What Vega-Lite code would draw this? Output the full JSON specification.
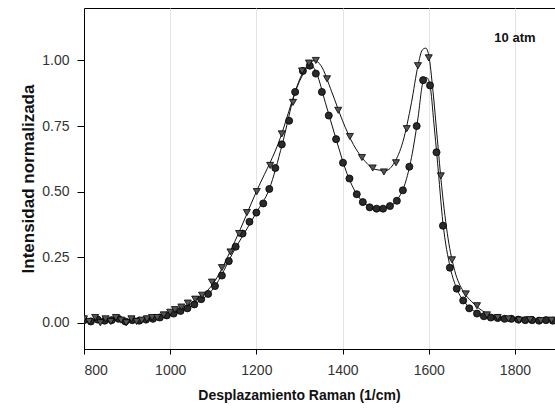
{
  "$schema": "https://vega.github.io/schema/vega-lite/v6.json",
  "width": 471,
  "height": 341,
  "autosize": {"type": "none"},
  "padding": {"left": 84, "top": 8, "right": 0, "bottom": 61},
  "background": "white",
  "config": {
    "font": "Liberation Sans",
    "view": {"stroke": "#000", "strokeWidth": 1}
  },
  "datasets": {
    "obs": [
      {"s":"C","x":800,"y":0.01},{"s":"C","x":816,"y":0.005},{"s":"C","x":832,"y":0.012},{"s":"C","x":848,"y":0.008},
      {"s":"C","x":864,"y":0.01},{"s":"C","x":880,"y":0.015},{"s":"C","x":896,"y":0.005},{"s":"C","x":912,"y":0.01},
      {"s":"C","x":928,"y":0.008},{"s":"C","x":944,"y":0.012},{"s":"C","x":960,"y":0.015},{"s":"C","x":976,"y":0.02},
      {"s":"C","x":992,"y":0.028},{"s":"C","x":1008,"y":0.035},{"s":"C","x":1024,"y":0.045},{"s":"C","x":1040,"y":0.055},
      {"s":"C","x":1056,"y":0.07},{"s":"C","x":1072,"y":0.09},{"s":"C","x":1088,"y":0.11},{"s":"C","x":1104,"y":0.14},
      {"s":"C","x":1120,"y":0.18},{"s":"C","x":1136,"y":0.235},{"s":"C","x":1152,"y":0.29},{"s":"C","x":1168,"y":0.34},
      {"s":"C","x":1184,"y":0.385},{"s":"C","x":1200,"y":0.42},{"s":"C","x":1216,"y":0.455},{"s":"C","x":1230,"y":0.51},
      {"s":"C","x":1244,"y":0.59},{"s":"C","x":1259,"y":0.68},{"s":"C","x":1276,"y":0.77},{"s":"C","x":1290,"y":0.88},
      {"s":"C","x":1308,"y":0.96},{"s":"C","x":1324,"y":0.98},{"s":"C","x":1338,"y":0.95},{"s":"C","x":1352,"y":0.88},
      {"s":"C","x":1368,"y":0.79},{"s":"C","x":1385,"y":0.70},{"s":"C","x":1401,"y":0.61},{"s":"C","x":1416,"y":0.55},
      {"s":"C","x":1433,"y":0.49},{"s":"C","x":1447,"y":0.46},{"s":"C","x":1463,"y":0.44},{"s":"C","x":1479,"y":0.435},
      {"s":"C","x":1494,"y":0.435},{"s":"C","x":1510,"y":0.445},{"s":"C","x":1526,"y":0.465},{"s":"C","x":1540,"y":0.505},
      {"s":"C","x":1555,"y":0.595},{"s":"C","x":1572,"y":0.75},{"s":"C","x":1587,"y":0.925},{"s":"C","x":1603,"y":0.905},
      {"s":"C","x":1618,"y":0.65},{"s":"C","x":1633,"y":0.37},{"s":"C","x":1649,"y":0.21},{"s":"C","x":1665,"y":0.13},
      {"s":"C","x":1680,"y":0.085},{"s":"C","x":1694,"y":0.055},{"s":"C","x":1712,"y":0.035},{"s":"C","x":1728,"y":0.025},
      {"s":"C","x":1744,"y":0.02},{"s":"C","x":1760,"y":0.018},{"s":"C","x":1776,"y":0.015},{"s":"C","x":1792,"y":0.015},
      {"s":"C","x":1808,"y":0.012},{"s":"C","x":1824,"y":0.01},{"s":"C","x":1840,"y":0.01},{"s":"C","x":1856,"y":0.008},
      {"s":"C","x":1872,"y":0.01},{"s":"C","x":1888,"y":0.008},
      {"s":"T","x":800,"y":0.015},{"s":"T","x":812,"y":0.005},{"s":"T","x":826,"y":0.02},{"s":"T","x":838,"y":0.0},
      {"s":"T","x":850,"y":0.015},{"s":"T","x":862,"y":0.005},{"s":"T","x":874,"y":0.02},{"s":"T","x":886,"y":0.01},
      {"s":"T","x":898,"y":0.0},{"s":"T","x":910,"y":0.015},{"s":"T","x":922,"y":0.005},{"s":"T","x":934,"y":0.01},
      {"s":"T","x":946,"y":0.015},{"s":"T","x":958,"y":0.02},{"s":"T","x":970,"y":0.02},{"s":"T","x":985,"y":0.03},
      {"s":"T","x":1000,"y":0.04},{"s":"T","x":1011,"y":0.05},{"s":"T","x":1026,"y":0.06},{"s":"T","x":1041,"y":0.075},
      {"s":"T","x":1058,"y":0.09},{"s":"T","x":1074,"y":0.105},{"s":"T","x":1097,"y":0.155},{"s":"T","x":1120,"y":0.21},
      {"s":"T","x":1140,"y":0.27},{"s":"T","x":1160,"y":0.34},{"s":"T","x":1178,"y":0.42},{"s":"T","x":1201,"y":0.50},
      {"s":"T","x":1232,"y":0.60},{"s":"T","x":1259,"y":0.72},{"s":"T","x":1285,"y":0.84},{"s":"T","x":1306,"y":0.96},
      {"s":"T","x":1322,"y":0.99},{"s":"T","x":1338,"y":1.0},{"s":"T","x":1364,"y":0.93},{"s":"T","x":1390,"y":0.81},
      {"s":"T","x":1417,"y":0.71},{"s":"T","x":1445,"y":0.63},{"s":"T","x":1470,"y":0.59},{"s":"T","x":1496,"y":0.575},
      {"s":"T","x":1524,"y":0.61},{"s":"T","x":1549,"y":0.74},{"s":"T","x":1575,"y":0.98},{"s":"T","x":1600,"y":1.01},
      {"s":"T","x":1628,"y":0.56},{"s":"T","x":1654,"y":0.24},{"s":"T","x":1686,"y":0.11},{"s":"T","x":1712,"y":0.065},
      {"s":"T","x":1735,"y":0.03},{"s":"T","x":1760,"y":0.02},{"s":"T","x":1785,"y":0.015},{"s":"T","x":1810,"y":0.01},
      {"s":"T","x":1835,"y":0.012},{"s":"T","x":1860,"y":0.008},{"s":"T","x":1885,"y":0.01}
    ],
    "fit": [
      {"s":"T","x":800,"y":0.01},{"s":"T","x":850,"y":0.01},{"s":"T","x":900,"y":0.012},{"s":"T","x":950,"y":0.018},
      {"s":"T","x":1000,"y":0.035},{"s":"T","x":1050,"y":0.075},{"s":"T","x":1100,"y":0.15},{"s":"T","x":1150,"y":0.31},
      {"s":"T","x":1200,"y":0.50},{"s":"T","x":1250,"y":0.68},{"s":"T","x":1300,"y":0.92},{"s":"T","x":1320,"y":0.98},
      {"s":"T","x":1335,"y":1.0},{"s":"T","x":1350,"y":0.98},{"s":"T","x":1375,"y":0.88},{"s":"T","x":1400,"y":0.77},
      {"s":"T","x":1425,"y":0.68},{"s":"T","x":1450,"y":0.62},{"s":"T","x":1475,"y":0.585},{"s":"T","x":1500,"y":0.58},
      {"s":"T","x":1520,"y":0.61},{"s":"T","x":1540,"y":0.69},{"s":"T","x":1560,"y":0.84},{"s":"T","x":1575,"y":0.98},
      {"s":"T","x":1585,"y":1.04},{"s":"T","x":1593,"y":1.047},{"s":"T","x":1600,"y":1.02},{"s":"T","x":1610,"y":0.88},
      {"s":"T","x":1620,"y":0.70},{"s":"T","x":1630,"y":0.52},{"s":"T","x":1645,"y":0.32},{"s":"T","x":1660,"y":0.20},
      {"s":"T","x":1680,"y":0.12},{"s":"T","x":1700,"y":0.08},{"s":"T","x":1725,"y":0.045},{"s":"T","x":1750,"y":0.028},
      {"s":"T","x":1800,"y":0.015},{"s":"T","x":1850,"y":0.01},{"s":"T","x":1900,"y":0.01},
      {"s":"C","x":800,"y":0.01},{"s":"C","x":900,"y":0.01},{"s":"C","x":950,"y":0.015},{"s":"C","x":1000,"y":0.03},
      {"s":"C","x":1050,"y":0.065},{"s":"C","x":1100,"y":0.13},{"s":"C","x":1150,"y":0.28},{"s":"C","x":1200,"y":0.42},
      {"s":"C","x":1230,"y":0.51},{"s":"C","x":1260,"y":0.68},{"s":"C","x":1290,"y":0.88},{"s":"C","x":1310,"y":0.96},
      {"s":"C","x":1325,"y":0.985},{"s":"C","x":1340,"y":0.95},{"s":"C","x":1360,"y":0.84},{"s":"C","x":1385,"y":0.70},
      {"s":"C","x":1410,"y":0.57},{"s":"C","x":1435,"y":0.485},{"s":"C","x":1460,"y":0.445},{"s":"C","x":1485,"y":0.435},
      {"s":"C","x":1505,"y":0.44},{"s":"C","x":1525,"y":0.465},{"s":"C","x":1545,"y":0.53},{"s":"C","x":1560,"y":0.63},
      {"s":"C","x":1575,"y":0.78},{"s":"C","x":1587,"y":0.92},{"s":"C","x":1595,"y":0.935},{"s":"C","x":1603,"y":0.905},
      {"s":"C","x":1612,"y":0.76},{"s":"C","x":1620,"y":0.62},{"s":"C","x":1633,"y":0.38},{"s":"C","x":1650,"y":0.21},
      {"s":"C","x":1665,"y":0.13},{"s":"C","x":1685,"y":0.075},{"s":"C","x":1710,"y":0.04},{"s":"C","x":1750,"y":0.02},
      {"s":"C","x":1800,"y":0.015},{"s":"C","x":1900,"y":0.01}
    ],
    "label": [{"x":1800,"y":1.085,"t":"10 atm"}]
  },
  "layer": [
    {
      "data": {"name": "fit"},
      "mark": {"type": "line", "interpolate": "monotone", "color": "#111", "strokeWidth": 1, "clip": true},
      "encoding": {
        "x": {
          "field": "x", "type": "quantitative",
          "scale": {"domain": [800, 1893], "nice": false, "zero": false},
          "axis": {
            "title": "Desplazamiento Raman (1/cm)",
            "values": [800, 1000, 1200, 1400, 1600, 1800], "format": "d",
            "grid": true, "gridColor": "#e4e4e4",
            "domainColor": "#000", "tickColor": "#000", "tickSize": 5,
            "labelFontSize": 14, "labelColor": "#333", "labelPadding": 9,
            "titleFontSize": 14, "titleFontWeight": "bold", "titleColor": "#111", "titlePadding": 11,
            "titleX": 215
          }
        },
        "y": {
          "field": "y", "type": "quantitative",
          "scale": {"domain": [-0.1, 1.2], "nice": false, "zero": false},
          "axis": {
            "title": "Intensidad normalizada",
            "values": [0, 0.25, 0.5, 0.75, 1.0], "format": ".2f",
            "grid": false,
            "domainColor": "#000", "tickColor": "#000", "tickSize": 7,
            "labelFontSize": 14, "labelColor": "#333", "labelPadding": 8,
            "titleFontSize": 17, "titleFontWeight": "bold", "titleColor": "#111", "titlePadding": 4
          }
        },
        "detail": {"field": "s"}
      }
    },
    {
      "data": {"name": "obs"},
      "mark": {"type": "point", "filled": true, "stroke": "#000", "strokeWidth": 0.8, "opacity": 1, "clip": true},
      "encoding": {
        "x": {"field": "x", "type": "quantitative"},
        "y": {"field": "y", "type": "quantitative"},
        "shape": {"field": "s", "scale": {"domain": ["C", "T"], "range": ["circle", "triangle-down"]}, "legend": null},
        "fill": {"field": "s", "scale": {"domain": ["C", "T"], "range": ["#2a2a2a", "#555555"]}, "legend": null},
        "size": {"value": 50}
      }
    },
    {
      "data": {"name": "label"},
      "mark": {"type": "text", "fontWeight": "bold", "fontSize": 13, "color": "#111"},
      "encoding": {
        "x": {"field": "x", "type": "quantitative"},
        "y": {"field": "y", "type": "quantitative"},
        "text": {"field": "t"}
      }
    }
  ]
}
